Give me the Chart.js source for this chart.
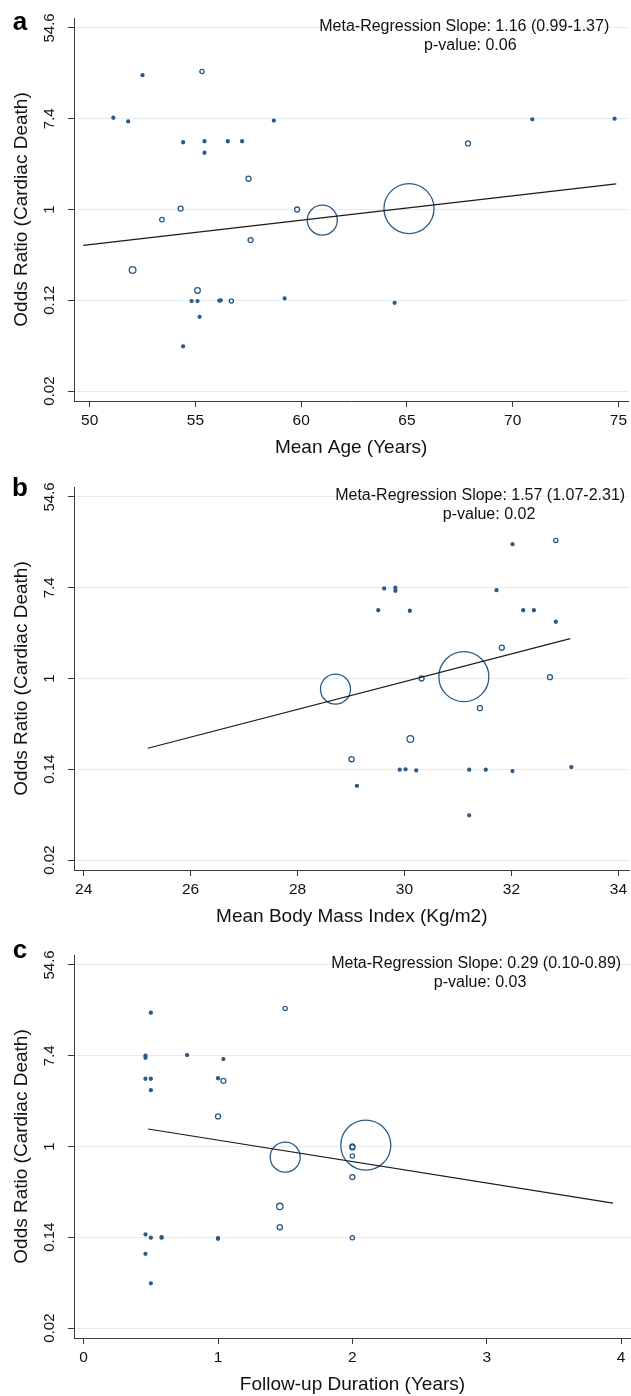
<!DOCTYPE html>
<html>
<head>
<meta charset="utf-8">
<title>Meta-regression: Cardiac Death</title>
<script src="https://cdn.jsdelivr.net/npm/chart.js@4.4.1/dist/chart.umd.min.js"></script>
<style>
    html, body { margin: 0; padding: 0; background: #fff; overflow: hidden; }
    .panel { position: absolute; left: 0; width: 631px; height: 459px; }
</style>
</head>
<body>
<div class="panel" style="top:0px"><canvas id="chartA"></canvas></div>
<div class="panel" style="top:469px"><canvas id="chartB"></canvas></div>
<div class="panel" style="top:937px"><canvas id="chartC"></canvas></div>
<script>
// ---- shared y axis (log odds ratio) ----
const orTickValues = [0.0183, 0.1353, 1, 7.389, 54.598];
const orTickLabelsA = ["0.02", "0.12", "1", "7.4", "54.6"];
const orTickLabelsBC = ["0.02", "0.14", "1", "7.4", "54.6"];
const orMin = 0.0147;
const orMax = 68.0;

// ---- panel a: mean age ----
const ageTicks = [50, 55, 60, 65, 70, 75];
const ageX = [51.12, 51.82, 52.5, 55.31, 58.71, 54.42, 55.43, 56.53, 57.21, 55.43, 70.93, 74.82,
    67.89, 57.51, 54.3, 59.81, 53.42, 52.03, 57.61, 55.1, 54.82, 55.1, 56.13, 56.2, 56.7, 59.22,
    64.42, 55.2, 54.42, 61.0, 65.1];
const ageOR = [7.55, 6.97, 19.3, 20.9, 7.1, 4.4, 4.5, 4.5, 4.5, 3.49, 7.3, 7.4,
    4.29, 1.97, 1.02, 1.0, 0.8, 0.264, 0.51, 0.168, 0.133, 0.133, 0.134, 0.135, 0.133, 0.141,
    0.128, 0.094, 0.049, 0.79, 1.02];
const ageWeight = [1, 1, 1, 2, 1, 1, 1, 1, 1, 1, 1, 1,
    2.8, 2.8, 2.8, 2.8, 2.4, 5, 2.8, 3.5, 1, 1, 1, 1, 2, 1,
    1, 1, 1, 100, 278];
const ageFitX = [49.7, 74.9];
const ageFitOR = [0.454, 1.76];

// ---- panel b: body mass index ----
const bmiTicks = [24, 26, 28, 30, 32, 34];
const bmiX = [32.02, 32.83, 29.62, 29.83, 29.83, 31.72, 29.51, 30.1, 32.22, 32.42, 32.83,
    31.82, 30.32, 32.72, 31.11, 28.71, 31.41, 30.11, 29.01, 29.91, 30.02, 30.22, 31.21, 31.52,
    32.02, 33.12, 29.11, 31.21];
const bmiOR = [19.3, 20.9, 7.28, 7.4, 6.9, 7.0, 4.5, 4.45, 4.5, 4.5, 3.49,
    1.97, 1.0, 1.03, 1.04, 0.79, 0.52, 0.264, 0.169, 0.134, 0.135, 0.132, 0.134, 0.134,
    0.13, 0.142, 0.094, 0.049];
const bmiWeight = [1, 2, 1, 1, 1, 1, 1, 1, 1, 1, 1,
    2.8, 2.8, 2.8, 278, 100, 2.8, 5, 3, 1, 1, 1, 1, 1,
    1, 1, 1, 1];
const bmiFitX = [25.2, 33.1];
const bmiFitOR = [0.215, 2.41];

// ---- panel c: follow-up duration ----
const durTicks = [0, 1, 2, 3, 4];
const durX = [0.5, 1.5, 0.46, 0.46, 0.77, 1.04, 0.46, 0.5, 1.0, 1.04, 0.5, 1.0,
    2.0, 2.0, 2.0, 2.1, 1.5, 2.0, 1.46, 1.46, 2.0, 0.46, 0.5, 0.58, 0.58, 1.0, 1.0, 0.46, 0.5];
const durOR = [19.1, 20.9, 7.4, 7.07, 7.5, 6.87, 4.45, 4.45, 4.5, 4.25, 3.46, 1.94,
    1.0, 0.98, 0.81, 1.03, 0.79, 0.51, 0.267, 0.169, 0.134, 0.144, 0.134, 0.134, 0.136, 0.133, 0.131, 0.094, 0.049];
const durWeight = [1, 2, 1, 1, 1, 1, 1, 1, 1, 2.8, 1, 2.8,
    2.8, 2.8, 2, 278, 100, 2.8, 4.5, 3, 2, 1, 1, 1, 1, 1, 1, 1, 1];
const durFitX = [0.48, 3.94];
const durFitOR = [1.47, 0.287];

const FONT = '"Liberation Sans", Arial, Helvetica, sans-serif';
const MARKER = "#2a5a88";
const AXIS = "#3a3a3a";

Chart.defaults.font.family = FONT;
Chart.defaults.color = "#111";

// study weight -> marker radius (area proportional to weight)
const radiusFor = (w) => 1.5 * Math.sqrt(w);

// draws the panel letter and the slope annotation
const notesPlugin = {
    id: "notes",
    afterDraw(chart, args, opts) {
        const { ctx, chartArea, scales } = chart;
        ctx.save();
        ctx.fillStyle = "#000";
        ctx.textAlign = "center";
        ctx.textBaseline = "alphabetic";
        ctx.font = "bold 26px " + FONT;
        ctx.fillText(opts.letter, 20, opts.letterY);

        ctx.font = "16px " + FONT;
        ctx.fillStyle = "#111";
        ctx.textBaseline = "middle";
        const yTop = scales.y.getPixelForValue(orTickValues[orTickValues.length - 1]) - 1.5;
        opts.lines.forEach((t, i) => {
            const x = chartArea.left + chartArea.width * opts.centers[i];
            ctx.fillText(t, x, yTop + i * 19);
        });
        ctx.restore();
    },
};

function buildChart(id, p) {
    const points = p.x.map((x, i) => ({ x: x, y: p.y[i], r: radiusFor(p.w[i]) }));
    const fit = p.fitX.map((x, i) => ({ x: x, y: p.fitY[i] }));

    return new Chart(document.getElementById(id), {
        type: "bubble",
        data: {
            datasets: [
                {
                    type: "line",
                    data: fit,
                    borderColor: "#1a1a1a",
                    borderWidth: 1.2,
                    pointRadius: 0,
                    fill: false,
                    order: 0,
                },
                {
                    data: points,
                    // the smallest studies render as solid dots, as in the original
                    backgroundColor: (c) => (c.raw && c.raw.r < 2 ? MARKER : "rgba(0,0,0,0)"),
                    borderColor: MARKER,
                    borderWidth: 1.3,
                    order: 1,
                },
            ],
        },
        options: {
            responsive: true,
            maintainAspectRatio: false,
            animation: false,
            events: [],
            layout: { autoPadding: false, padding: { top: 18, left: 0, right: 0, bottom: 0 } },
            plugins: {
                legend: { display: false },
                tooltip: { enabled: false },
                notes: { letter: p.letter, letterY: p.letterY, lines: p.note, centers: p.noteCenters },
            },
            scales: {
                x: {
                    type: "linear",
                    position: "bottom",
                    min: p.xMin,
                    max: p.xMax,
                    afterBuildTicks: (s) => { s.ticks = p.xTicks.map((v) => ({ value: v })); },
                    afterFit: (s) => { s.height = 58; },
                    ticks: {
                        color: "#111",
                        font: { size: 15.5 },
                        padding: 4,
                        maxRotation: 0,
                        callback: (v) => String(v),
                    },
                    grid: { drawOnChartArea: false, drawTicks: true, tickLength: 6, tickColor: AXIS, tickWidth: 1 },
                    border: { display: true, color: AXIS, width: 1 },
                    title: { display: true, text: p.xTitle, color: "#111", font: { size: 19 }, padding: { top: 0, bottom: 0 } },
                },
                y: {
                    type: "logarithmic",
                    position: "left",
                    min: orMin,
                    max: orMax,
                    afterBuildTicks: (s) => { s.ticks = orTickValues.map((v) => ({ value: v })); },
                    afterFit: (s) => { s.width = 74; },
                    ticks: {
                        color: "#111",
                        font: { size: 15 },
                        minRotation: 90,
                        maxRotation: 90,
                        crossAlign: "center",
                        padding: 4,
                        callback: (v, i) => p.yLabels[i],
                    },
                    grid: { color: "#e3ecef", lineWidth: 1, drawTicks: true, tickLength: 6, tickColor: AXIS, tickWidth: 1 },
                    border: { display: true, color: AXIS, width: 1 },
                    title: { display: true, text: "Odds Ratio (Cardiac Death)", color: "#111", font: { size: 19 }, padding: { top: 10.5, bottom: 0 } },
                },
            },
        },
        plugins: [notesPlugin],
    });
}

buildChart("chartA", {
    x: ageX, y: ageOR, w: ageWeight, fitX: ageFitX, fitY: ageFitOR,
    xMin: 49.26, xMax: 75.47, xTicks: ageTicks, xTitle: "Mean Age (Years)",
    yLabels: orTickLabelsA, letter: "a", letterY: 30,
    note: ["Meta-Regression Slope: 1.16 (0.99-1.37)", "p-value: 0.06"], noteCenters: [0.704, 0.715],
});

buildChart("chartB", {
    x: bmiX, y: bmiOR, w: bmiWeight, fitX: bmiFitX, fitY: bmiFitOR,
    xMin: 23.82, xMax: 34.21, xTicks: bmiTicks, xTitle: "Mean Body Mass Index (Kg/m2)",
    yLabels: orTickLabelsBC, letter: "b", letterY: 27,
    note: ["Meta-Regression Slope: 1.57 (1.07-2.31)", "p-value: 0.02"], noteCenters: [0.731, 0.747],
});

buildChart("chartC", {
    x: durX, y: durOR, w: durWeight, fitX: durFitX, fitY: durFitOR,
    xMin: -0.072, xMax: 4.074, xTicks: durTicks, xTitle: "Follow-up Duration (Years)",
    yLabels: orTickLabelsBC, letter: "c", letterY: 21,
    note: ["Meta-Regression Slope: 0.29 (0.10-0.89)", "p-value: 0.03"], noteCenters: [0.722, 0.729],
});
</script>
</body>
</html>
